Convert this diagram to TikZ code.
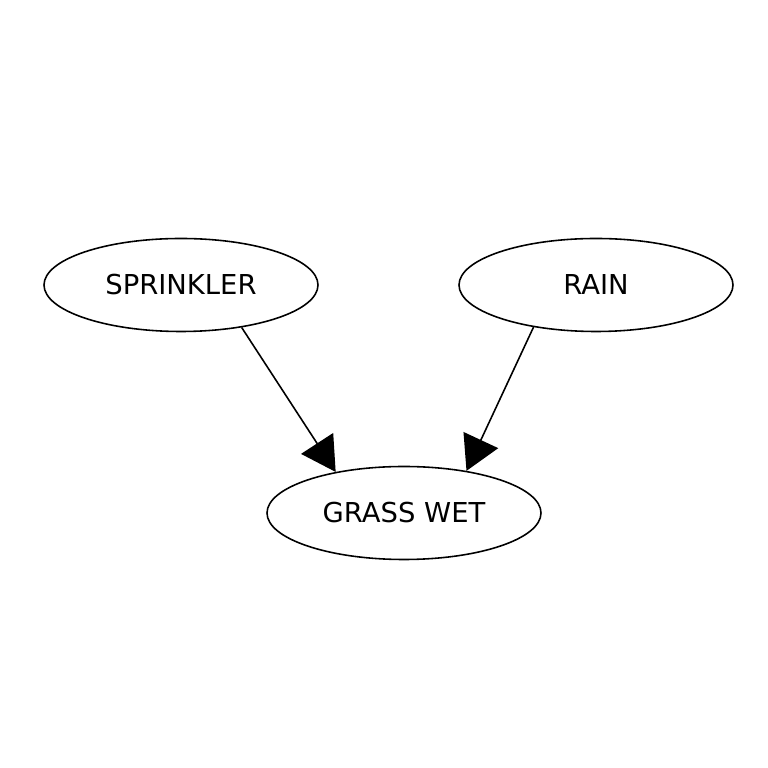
\documentclass[tikz,border=0pt]{standalone}
\usepackage{fontspec}
\setmainfont{DejaVu Sans}
\usetikzlibrary{shapes.geometric,arrows.meta}
\tikzset{
  var/.style={draw, ellipse, line width=0.45pt, inner sep=0pt, minimum width=2.74cm, minimum height=0.93cm, font=\fontsize{7.8}{9}\selectfont},
  dep/.style={draw, line width=0.45pt, -{Triangle[length=0.34cm, width=0.38cm]}}
}
\begin{document}
\begin{tikzpicture}
\useasboundingbox (0,0) rectangle (7.68,7.68);

\node[var] (sprinkler) at (1.81,4.83) {SPRINKLER};
\node[var] (rain) at (5.96,4.83) {RAIN};
\node[var] (grass) at (4.04,2.55) {GRASS WET};

\path[dep] (sprinkler.-35) -- (grass.149);
\path[dep] (rain.214) -- (grass.34);
\end{tikzpicture}
\end{document}
